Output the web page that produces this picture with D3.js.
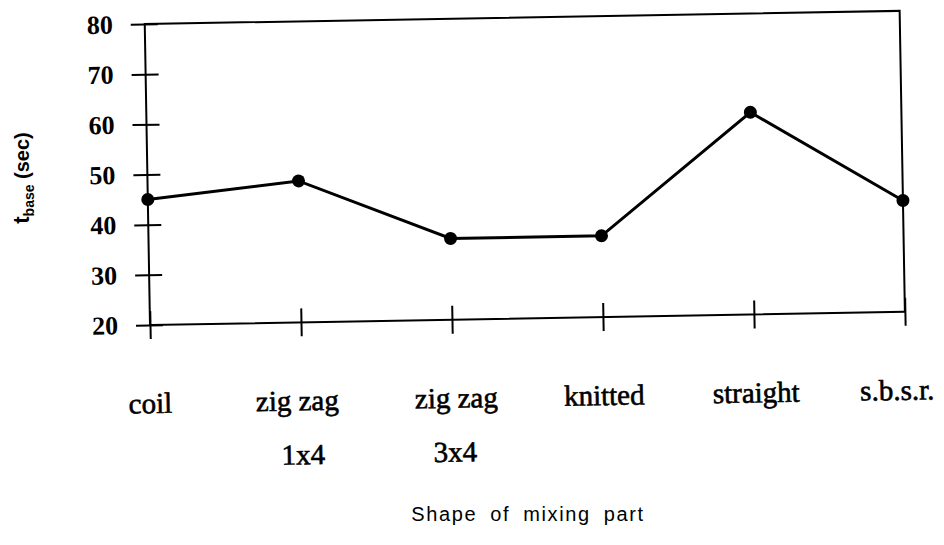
<!DOCTYPE html>
<html>
<head>
<meta charset="utf-8">
<script src="https://cdn.jsdelivr.net/npm/d3@7"></script>
<style>
  body { margin: 0; background: #fff; }
  svg { display: block; }
</style>
</head>
<body>
<svg id="chart"></svg>
<script>
const categories = ["coil", "zig zag 1x4", "zig zag 3x4", "knitted", "straight", "s.b.s.r."];
const tBase = [45, 48.2, 36.2, 36.2, 60.3, 42.2];
const labelTop = ["coil", "zig zag", "zig zag", "knitted", "straight", "s.b.s.r."];
const labelBottom = ["", "1x4", "3x4", "", "", ""];
const yTicks = [20, 30, 40, 50, 60, 70, 80];

const width = 944;
const height = 545;
const plotLeft = 150, plotRight = 905, plotTop = 24, plotBottom = 325;

// labels in the original were typed by hand, not exactly centred on the ticks
const topNudge = [-1, -5, 3, 0, 1, -9];
const bottomNudge = [0, 0, 1, 0, 0, 0];

const svg = d3.select("#chart").attr("width", width).attr("height", height);

const x = d3.scalePoint().domain(categories).range([plotLeft, plotRight]);
const y = d3.scaleLinear().domain([20, 80]).range([plotBottom, plotTop]);

// the scanned figure is tilted by about one degree
const plot = svg.append("g").attr("transform", `rotate(-1, ${plotLeft}, ${plotBottom})`);

plot
  .append("rect")
  .attr("x", plotLeft)
  .attr("y", plotTop)
  .attr("width", plotRight - plotLeft)
  .attr("height", plotBottom - plotTop)
  .attr("fill", "none")
  .attr("stroke", "#000")
  .attr("stroke-width", 2);

const yAxis = d3.axisLeft(y).tickValues(yTicks).tickSize(27).tickPadding(18);
plot
  .append("g")
  .attr("transform", `translate(${plotLeft + 13},0)`)
  .call(yAxis)
  .call((g) => g.select(".domain").remove())
  .call((g) => g.selectAll("line").attr("stroke", "#000").attr("stroke-width", 2))
  .call((g) =>
    g
      .selectAll("text")
      .attr("fill", "#000")
      .attr("font-family", "Liberation Serif")
      .attr("font-weight", "bold")
      .attr("font-size", 26)
  );

const xAxis = d3.axisBottom(x).tickSize(28).tickFormat("");
plot
  .append("g")
  .attr("transform", `translate(0,${plotBottom - 14})`)
  .call(xAxis)
  .call((g) => g.select(".domain").remove())
  .call((g) => g.selectAll("line").attr("stroke", "#000").attr("stroke-width", 2));

const line = d3
  .line()
  .x((d, i) => x(categories[i]))
  .y((d) => y(d));

plot
  .append("path")
  .datum(tBase)
  .attr("d", line)
  .attr("fill", "none")
  .attr("stroke", "#000")
  .attr("stroke-width", 3);

plot
  .selectAll("circle")
  .data(tBase)
  .enter()
  .append("circle")
  .attr("cx", (d, i) => x(categories[i]))
  .attr("cy", (d) => y(d))
  .attr("r", 6.5)
  .attr("fill", "#000");

// category labels, two rows (they follow the tilt of the scan)
const labels = plot
  .append("g")
  .attr("font-family", "Liberation Serif")
  .attr("font-size", 29)
  .attr("fill", "#000")
  .attr("stroke", "#000")
  .attr("stroke-width", 0.6)
  .attr("text-anchor", "middle");

labels
  .selectAll(".row1")
  .data(labelTop)
  .enter()
  .append("text")
  .attr("class", "row1")
  .attr("x", (d, i) => x(categories[i]) + topNudge[i])
  .attr("y", 413)
  .text((d) => d);

labels
  .selectAll(".row2")
  .data(labelBottom)
  .enter()
  .append("text")
  .attr("class", "row2")
  .attr("x", (d, i) => x(categories[i]) + bottomNudge[i])
  .attr("y", 467)
  .text((d) => d);

svg
  .append("text")
  .attr("x", 528)
  .attr("y", 521)
  .attr("text-anchor", "middle")
  .attr("font-family", "Liberation Sans")
  .attr("font-size", 20)
  .attr("letter-spacing", 1.6)
  .attr("word-spacing", 6)
  .text("Shape of mixing part");

const yTitle = svg
  .append("text")
  .attr("transform", "translate(29,178) rotate(-90)")
  .attr("text-anchor", "middle")
  .attr("font-family", "Liberation Sans")
  .attr("font-weight", "bold")
  .attr("font-size", 20);
yTitle.append("tspan").attr("font-size", 22).text("t");
yTitle.append("tspan").attr("font-size", 14).attr("dy", 5).text("base");
yTitle.append("tspan").attr("dy", -5).text("  (sec)");
</script>
</body>
</html>
